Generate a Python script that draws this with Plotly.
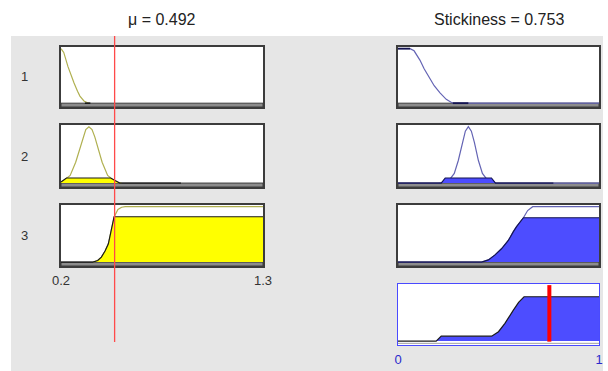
import plotly.graph_objects as go

# ---------------- data ----------------
input_name = "μ"
input_value = 0.492
output_name = "Stickiness"
output_value = 0.753
input_range = [0.2, 1.3]
output_range = [0.0, 1.0]
rule_labels = ["1", "2", "3"]
input_ticks = [0.2, 1.3]
input_ticktext = ["0.2", "1.3"]
output_ticks = [0, 1]
output_ticktext = ["0", "1"]

# input membership functions (μ)
in_mf1_x = [0.20, 0.215, 0.238, 0.255, 0.271, 0.29, 0.303, 0.325, 0.35]
in_mf1_y = [1.0, 0.93, 0.67, 0.50, 0.37, 0.22, 0.13, 0.04, 0.0]
in_edge1_x = [0.33, 0.36]
in_edge1_y = [0.0, 0.0]

in_mf2_x = [0.20, 0.25, 0.28, 0.30, 0.32, 0.335, 0.352, 0.369, 0.384, 0.404, 0.424, 0.454, 0.50, 0.53]
in_mf2_y = [0.01, 0.135, 0.37, 0.59, 0.82, 0.95, 1.0, 0.95, 0.82, 0.59, 0.37, 0.135, 0.015, 0.0]
in_fill2_x = [0.20, 0.23, 0.47, 0.52, 0.853]
in_fill2_y = [0.02, 0.09, 0.09, 0.0, 0.0]

in_mf3_x = [0.374, 0.40, 0.42, 0.44, 0.458, 0.472, 0.49, 0.51, 0.53, 0.55, 1.3]
in_mf3_y = [0.0, 0.03, 0.09, 0.20, 0.33, 0.55, 0.82, 0.95, 0.99, 1.0, 1.0]
in_fill3_x = [0.20, 0.374, 0.40, 0.42, 0.44, 0.458, 0.472, 0.489, 1.3]
in_fill3_y = [0.0, 0.0, 0.03, 0.09, 0.20, 0.33, 0.55, 0.818, 0.818]

# output membership functions (Stickiness)
out_mf1_x = [0.0, 0.06, 0.08, 0.109, 0.13, 0.151, 0.18, 0.209, 0.24, 0.272, 1.0]
out_mf1_y = [1.0, 1.0, 0.96, 0.79, 0.63, 0.49, 0.32, 0.19, 0.07, 0.0, 0.0]
out_edge1_x = [0.0, 0.06, None, 0.272, 0.35]
out_edge1_y = [1.0, 1.0, None, 0.0, 0.0]

out_mf2_x = [0.0, 0.20, 0.25, 0.28, 0.30, 0.32, 0.335, 0.35, 0.365, 0.38, 0.40, 0.42, 0.45, 0.49, 1.0]
out_mf2_y = [0.0, 0.0, 0.03, 0.17, 0.40, 0.72, 0.92, 1.0, 0.92, 0.72, 0.40, 0.17, 0.03, 0.0, 0.0]
out_fill2_x = [0.0, 0.215, 0.235, 0.465, 0.485, 0.773]
out_fill2_y = [0.0, 0.0, 0.09, 0.09, 0.0, 0.0]

out_mf3_x = [0.0, 0.416, 0.45, 0.483, 0.515, 0.549, 0.574, 0.59, 0.624, 0.645, 0.67, 1.0]
out_mf3_y = [0.0, 0.0, 0.04, 0.13, 0.24, 0.39, 0.55, 0.64, 0.80, 0.93, 1.0, 1.0]
out_fill3_x = [0.0, 0.416, 0.45, 0.483, 0.515, 0.549, 0.574, 0.59, 0.624, 1.0]
out_fill3_y = [0.0, 0.0, 0.04, 0.13, 0.24, 0.39, 0.55, 0.64, 0.80, 0.80]

agg_x = [0.0, 0.19, 0.215, 0.466, 0.50, 0.532, 0.574, 0.60, 0.627, 1.0]
agg_y = [0.0, 0.0, 0.09, 0.09, 0.17, 0.32, 0.56, 0.70, 0.80, 0.80]

# ---------------- layout helpers ----------------
W, H = 608, 371
FONT = "Liberation Sans, Arial, sans-serif"
YR = [-0.07, 1.03]
left_px = (61, 263)
right_px = (398, 599)
rows_px = [(47, 107), (125, 187), (205, 266), (284, 345)]

OLIVE = "#b0b050"
YELLOW = "#ffff00"
SLATE = "#6464b4"
BLUE = "#4d4dff"
EDGE = "#1a1a1a"
NAVY = "#141450"


def xdom(px):
    return [px[0] / W, px[1] / W]


def ydom(py):
    return [1 - py[1] / H, 1 - py[0] / H]


fig = go.Figure()

# panels: (axis index, column, row)
panels = [(1, "L", 0), (2, "L", 1), (3, "L", 2),
          (4, "R", 0), (5, "R", 1), (6, "R", 2), (7, "R", 3)]


def ax(i):
    return ("x" if i == 1 else f"x{i}"), ("y" if i == 1 else f"y{i}")


def add(i, x, y, color, width=1.2, fill=None, fillcolor=None):
    xa, ya = ax(i)
    fig.add_trace(go.Scatter(x=x, y=y, xaxis=xa, yaxis=ya, mode="lines",
                             line=dict(color=color, width=width),
                             fill=fill, fillcolor=fillcolor,
                             hoverinfo="skip", showlegend=False))


# left column (input)
add(1, in_mf1_x, in_mf1_y, OLIVE)
add(1, in_edge1_x, in_edge1_y, EDGE, 1.6)
add(2, in_mf2_x, in_mf2_y, OLIVE)
add(2, in_fill2_x, in_fill2_y, EDGE, 1.2, "tozeroy", YELLOW)
add(3, in_mf3_x, in_mf3_y, OLIVE)
add(3, in_fill3_x, in_fill3_y, EDGE, 1.2, "tozeroy", YELLOW)

# right column (output)
add(4, out_mf1_x, out_mf1_y, SLATE)
add(4, out_edge1_x, out_edge1_y, NAVY, 1.8)
add(5, out_mf2_x, out_mf2_y, SLATE)
add(5, out_fill2_x, out_fill2_y, NAVY, 1.2, "tozeroy", BLUE)
add(6, out_mf3_x, out_mf3_y, SLATE)
add(6, out_fill3_x, out_fill3_y, NAVY, 1.2, "tozeroy", BLUE)
add(7, agg_x, agg_y, EDGE, 1.2, "tozeroy", BLUE)

shapes = [dict(type="rect", xref="paper", yref="paper",
               x0=11 / W, x1=603 / W, y0=0, y1=1 - 36 / H,
               fillcolor="#e6e6e6", line=dict(width=0), layer="below")]

layout_axes = {}
for i, col, r in panels:
    xr = input_range if col == "L" else output_range
    xpx = left_px if col == "L" else right_px
    xa, ya = ax(i)
    xkey = "xaxis" if i == 1 else f"xaxis{i}"
    ykey = "yaxis" if i == 1 else f"yaxis{i}"
    border = "#3c3c3c" if i != 7 else "#4a4aff"
    bw = 1.6 if i != 7 else 1.2
    xcfg = dict(domain=xdom(xpx), range=xr, anchor=ya, showgrid=False,
                zeroline=False, showline=True, mirror=True, linecolor=border,
                linewidth=bw, showticklabels=False, ticks="", fixedrange=True,
                automargin=False)
    if i == 3:
        xcfg.update(showticklabels=True, tickvals=input_ticks,
                    ticktext=input_ticktext, ticks="outside", ticklen=2,
                    tickcolor="rgba(0,0,0,0)",
                    tickfont=dict(family=FONT, size=13, color="#333333"))
    if i == 7:
        xcfg.update(showticklabels=True, tickvals=output_ticks,
                    ticktext=output_ticktext, ticks="outside", ticklen=2,
                    tickcolor="rgba(0,0,0,0)",
                    tickfont=dict(family=FONT, size=13, color="#2a2acc"))
    ycfg = dict(domain=ydom(rows_px[r]), range=YR, anchor=xa, showgrid=False,
                zeroline=False, showline=True, mirror=True, linecolor=border,
                linewidth=bw, showticklabels=False, ticks="", fixedrange=True,
                automargin=False)
    layout_axes[xkey] = xcfg
    layout_axes[ykey] = ycfg
    # white panel background
    shapes.append(dict(type="rect", xref=xa, yref=ya, x0=xr[0], x1=xr[1],
                       y0=YR[0], y1=YR[1], fillcolor="white",
                       line=dict(width=0), layer="below"))
    if i != 7:
        shapes.append(dict(type="rect", xref=xa, yref=ya, x0=xr[0], x1=xr[1],
                           y0=YR[0], y1=0, fillcolor="#8c8c8c",
                           line=dict(color="#3c3c3c", width=1), layer="below"))
    else:
        shapes.append(dict(type="line", xref=xa, yref=ya, x0=xr[0], x1=xr[1],
                           y0=-0.04, y1=-0.04,
                           line=dict(color="#a0a0a0", width=1), layer="below"))

# input value line (thin red, across left column)
shapes.append(dict(type="line", xref="x3", yref="paper",
                   x0=input_value, x1=input_value,
                   y0=1 - 342 / H, y1=1 - 36 / H,
                   line=dict(color="#ff4a4a", width=1.3), layer="above"))
# output value bar (thick red)
shapes.append(dict(type="line", xref="x7", yref="y7",
                   x0=output_value, x1=output_value, y0=-0.01, y1=1.01,
                   line=dict(color="#ff0000", width=4), layer="above"))

annotations = [
    dict(text=f"{input_name} = {input_value}", xref="paper", yref="paper",
         x=(left_px[0] + left_px[1]) / 2 / W, y=1 - 19 / H, showarrow=False,
         xanchor="center", yanchor="middle",
         font=dict(family=FONT, size=16, color="#222222")),
    dict(text=f"{output_name} = {output_value}", xref="paper", yref="paper",
         x=(right_px[0] + right_px[1]) / 2 / W, y=1 - 19 / H, showarrow=False,
         xanchor="center", yanchor="middle",
         font=dict(family=FONT, size=16, color="#222222")),
]
for lab, r in zip(rule_labels, range(3)):
    cy = (rows_px[r][0] + rows_px[r][1]) / 2
    annotations.append(dict(text=lab, xref="paper", yref="paper",
                            x=24 / W, y=1 - cy / H, showarrow=False,
                            xanchor="center", yanchor="middle",
                            font=dict(family=FONT, size=13, color="#333333")))

fig.update_layout(width=W, height=H, autosize=False,
                  margin=dict(l=0, r=0, t=0, b=0, pad=0, autoexpand=False),
                  paper_bgcolor="white", plot_bgcolor="white",
                  shapes=shapes, annotations=annotations, **layout_axes)

fig.write_html(
    "out.html",
    config={"displayModeBar": False},
    post_script="document.body.style.margin='0';"
                "document.documentElement.style.overflow='hidden';",
)
